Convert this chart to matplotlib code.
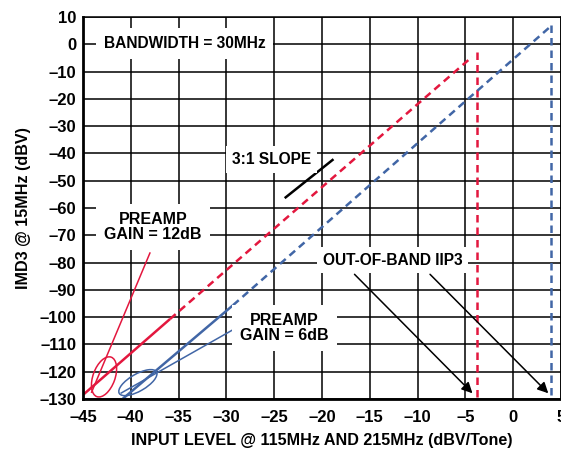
import matplotlib
matplotlib.use("Agg")
import matplotlib.pyplot as plt
from matplotlib.patches import Ellipse
from matplotlib.transforms import Affine2D, ScaledTranslation

plt.rcParams["font.family"] = ["Liberation Sans", "DejaVu Sans"]
plt.rcParams["font.weight"] = "bold"

RED = "#E3173E"
BLUE = "#4166A6"

# x/y ticks
x_ticks = [-45, -40, -35, -30, -25, -20, -15, -10, -5, 0, 5]
y_ticks = [10, 0, -10, -20, -30, -40, -50, -60, -70, -80, -90, -100, -110, -120, -130]

# red (preamp gain 12dB): measured part, extrapolated part, IIP3 marker
red_solid_x = [-45.0, -35.9]
red_solid_y = [-128.5, -100.7]
red_dash_x = [-35.9, -4.3]
red_dash_y = [-100.7, -4.6]
red_iip3_x = -3.8
red_iip3_top = -2.7
red_gain_x = [-44.1, -38.0]
red_gain_y = [-127.5, -76.5]

# blue (preamp gain 6dB)
blue_solid_x = [-41.0, -29.3]
blue_solid_y = [-130.4, -95.6]
blue_dash_x = [-29.3, 4.06]
blue_dash_y = [-95.6, 7.0]
blue_iip3_x = 4.0
blue_iip3_top = 7.0
blue_gain_x = [-41.0, -29.0]
blue_gain_y = [-127.8, -104.0]

slope_x = [-23.8, -18.9]
slope_y = [-56.1, -42.4]

# ellipse centres (data)
red_ell = (-42.8, -121.9)
blue_ell = (-39.26, -124.0)

fig = plt.figure(figsize=(5.61, 4.53), dpi=100)
ax = fig.add_axes([83 / 561, (453 - 399) / 453, 478 / 561, 382 / 453])
ax.set_xlim(-45, 5)
ax.set_ylim(-130, 10)
ax.set_xticks(x_ticks)
ax.set_yticks(y_ticks)
ax.set_xticklabels([str(v).replace("-", "\u2013") for v in x_ticks])
ax.set_yticklabels([str(v).replace("-", "\u2013") for v in y_ticks])
ax.tick_params(length=0, labelsize=12)
ax.tick_params(axis="x", pad=8)
ax.tick_params(axis="y", pad=5)
ax.grid(True, color="black", linewidth=1.1)
ax.set_axisbelow(True)
for s in ["top", "right"]:
    ax.spines[s].set_linewidth(1.1)
for s in ["left", "bottom"]:
    ax.spines[s].set_linewidth(2.0)

ax.set_xlabel("INPUT LEVEL @ 115MHz AND 215MHz (dBV/Tone)", fontsize=11.6, fontweight="bold", labelpad=6)
ax.set_ylabel("IMD3 @ 15MHz (dBV)", fontsize=11.6, fontweight="bold", labelpad=6)

dash = (3, 2)
ax.plot(red_solid_x, red_solid_y, color=RED, lw=1.8, solid_capstyle="butt")
ax.plot(red_dash_x, red_dash_y, color=RED, lw=1.8, dashes=dash)
ax.plot([red_iip3_x, red_iip3_x], [red_iip3_top, -130], color=RED, lw=1.8, dashes=dash)
ax.plot(red_gain_x, red_gain_y, color=RED, lw=1.1)

ax.plot(blue_solid_x, blue_solid_y, color=BLUE, lw=1.8, solid_capstyle="butt")
ax.plot(blue_dash_x, blue_dash_y, color=BLUE, lw=1.8, dashes=dash)
ax.plot([blue_iip3_x, blue_iip3_x], [blue_iip3_top, -130], color=BLUE, lw=1.8, dashes=dash)
ax.plot(blue_gain_x, blue_gain_y, color=BLUE, lw=1.1)

ax.plot(slope_x, slope_y, color="black", lw=1.8)


def ellipse(center, w, h, angle, color):
    # size in pixels, centre in data units
    tr = Affine2D() + ScaledTranslation(center[0], center[1], ax.transData)
    e = Ellipse((0, 0), w, h, angle=angle, fill=False, edgecolor=color, lw=1.1,
                transform=tr, clip_on=False)
    ax.add_patch(e)


ellipse(red_ell, 42, 22, 70, RED)
ellipse(blue_ell, 43, 17, 30, BLUE)

box = dict(boxstyle="square,pad=0.5", facecolor="white", edgecolor="none")
ax.text(-34.35, 0.3, "BANDWIDTH = 30MHz", fontsize=11.2, fontweight="bold",
        ha="center", va="center", bbox=box, zorder=3)
ax.text(-25.3, -42.2, "3:1 SLOPE", fontsize=11.2, fontweight="bold",
        ha="center", va="center", bbox=dict(boxstyle="square,pad=0.4", facecolor="white", edgecolor="none"), zorder=3)
ax.text(-37.66, -66.9, "PREAMP\nGAIN = 12dB", fontsize=11.5, fontweight="bold",
        ha="center", va="center", linespacing=1.0, bbox=box, zorder=3)
ax.text(-23.9, -104.1, "PREAMP\nGAIN = 6dB", fontsize=11.5, fontweight="bold",
        ha="center", va="center", linespacing=1.0, bbox=box, zorder=3)
ax.text(-12.6, -79.1, "OUT-OF-BAND IIP3", fontsize=11.2, fontweight="bold",
        ha="center", va="center", bbox=dict(boxstyle="square,pad=0.35", facecolor="white", edgecolor="none"), zorder=3)

arrow = dict(arrowstyle="-|>", color="black", lw=1.1, mutation_scale=16, shrinkA=0, shrinkB=0)
ax.annotate("", xy=(-4.26, -127.9), xytext=(-16.6, -84.3), arrowprops=arrow)
ax.annotate("", xy=(3.67, -127.9), xytext=(-8.7, -84.3), arrowprops=arrow)

fig.savefig("out.png", dpi=100)
